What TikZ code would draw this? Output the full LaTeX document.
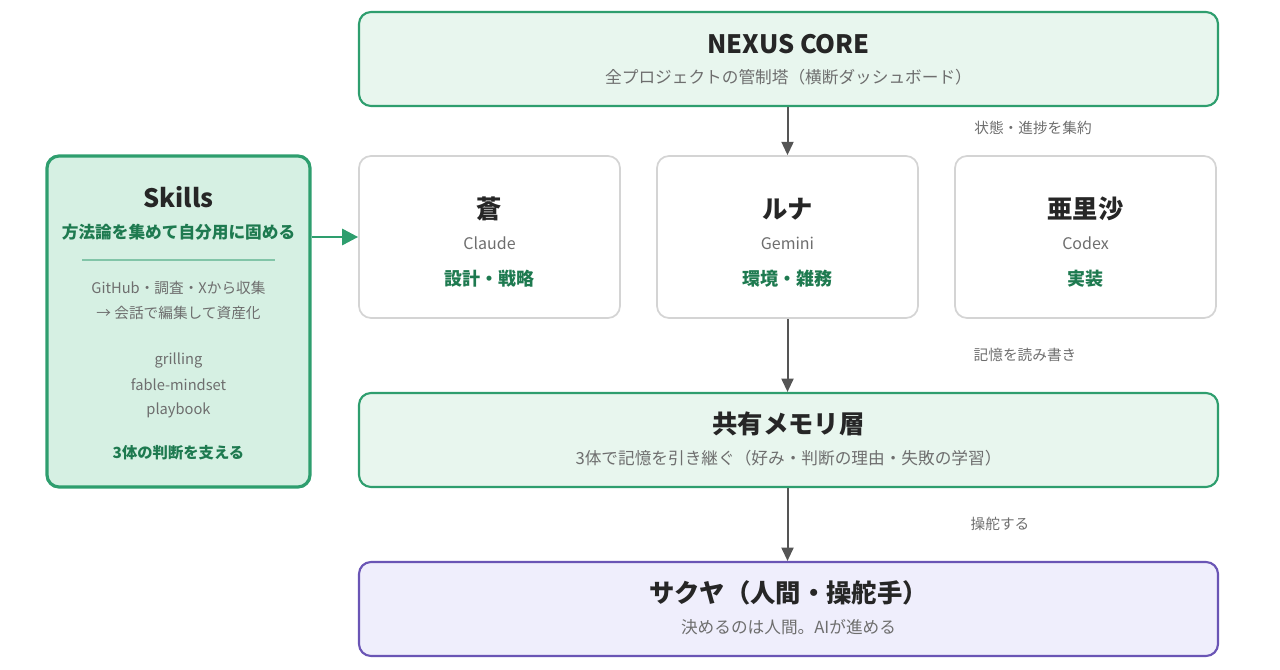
\documentclass[tikz,border=0pt]{standalone}
\usepackage{fontspec}
\setmainfont{Noto Sans CJK JP}
\usetikzlibrary{arrows.meta}
\definecolor{gborder}{HTML}{2E9E6E}
\definecolor{gfill}{HTML}{E8F6EE}
\definecolor{sfill}{HTML}{D6F0E3}
\definecolor{gtext}{HTML}{1E7A50}
\definecolor{pborder}{HTML}{6A55B5}
\definecolor{pfill}{HTML}{EFEEFC}
\definecolor{graytext}{HTML}{6E6E6E}
\definecolor{agent}{HTML}{D4D4D4}
\definecolor{arrowc}{HTML}{555555}
\tikzset{
 box/.style={draw, rounded corners=9pt, line width=1.6pt},
 ttl/.style={font=\bfseries\fontsize{19}{22}\selectfont, text=black!85},
 sub/.style={font=\fontsize{12.5}{14}\selectfont, text=graytext},
 small/.style={font=\fontsize{11}{13}\selectfont, text=graytext},
 role/.style={font=\bfseries\fontsize{13.5}{15}\selectfont, text=gtext},
 arr/.style={-{Triangle[length=10pt,width=9pt]}, line width=1.5pt, draw=arrowc, fill=arrowc},
}
\begin{document}
\begin{tikzpicture}[x=0.75pt,y=-0.75pt]
\useasboundingbox (0,0) rectangle (1280,670);
\node[box, draw=gborder, fill=gfill, minimum width=859*0.75pt, minimum height=94*0.75pt] (core) at (788.5,59) {};
\node[ttl] at (788.5,44) {NEXUS CORE};
\node[sub] at (788.5,77) {全プロジェクトの管制塔（横断ダッシュボード）};

\node[box, draw=gborder, fill=sfill, line width=2.4pt, minimum width=263*0.75pt, minimum height=331*0.75pt] (skills) at (178.5,321.5) {};
\node[ttl] at (178.5,197) {Skills};
\node[role, font=\bfseries\fontsize{12.5}{14}\selectfont] at (178.5,232) {方法論を集めて自分用に固める};
\draw[gborder!60, line width=0.8pt] (82,260) -- (275,260);
\node[small] at (178.5,288) {GitHub・調査・Xから収集};
\node[small] at (178.5,313) {→ 会話で編集して資産化};
\node[small] at (178.5,360) {grilling};
\node[small] at (178.5,385) {fable-mindset};
\node[small] at (178.5,410) {playbook};
\node[role, font=\bfseries\fontsize{11.5}{13}\selectfont] at (178.5,453) {3体の判断を支える};

\foreach \n/\x/\a/\b/\c in {ao/489.5/蒼/Claude/設計・戦略, luna/787.5/ルナ/Gemini/環境・雑務, arisa/1085.5/亜里沙/Codex/実装}{
 \node[box, draw=agent, fill=white, line width=1.3pt, minimum width=261*0.75pt, minimum height=162*0.75pt] (\n) at (\x,237) {};
 \node[ttl] at (\x,209) {\a};
 \node[sub, font=\fontsize{12}{14}\selectfont] at (\x,243) {\b};
 \node[role] at (\x,279) {\c};
}

\node[box, draw=gborder, fill=gfill, minimum width=859*0.75pt, minimum height=94*0.75pt] (mem) at (788.5,440) {};
\node[ttl] at (788.5,424) {共有メモリ層};
\node[sub] at (788.5,458) {3体で記憶を引き継ぐ（好み・判断の理由・失敗の学習）};

\node[box, draw=pborder, fill=pfill, minimum width=859*0.75pt, minimum height=94*0.75pt] (human) at (788.5,609) {};
\node[ttl] at (788.5,593) {サクヤ（人間・操舵手）};
\node[sub] at (788.5,627) {決めるのは人間。AIが進める};

\draw[arr] (core.south -| luna) -- (luna.north);
\draw[arr] (luna.south) -- (mem.north -| luna);
\draw[arr] (mem.south -| luna) -- (human.north -| luna);
\draw[arr, draw=gborder, fill=gborder, line width=2.2pt, -{Triangle[length=12pt,width=12pt]}] (skills.east |- ao) -- (ao.west);

\node[small] at (1033,128) {状態・進捗を集約};
\node[small] at (1025,355) {記憶を読み書き};
\node[small] at (1000,524) {操舵する};
\end{tikzpicture}
\end{document}
